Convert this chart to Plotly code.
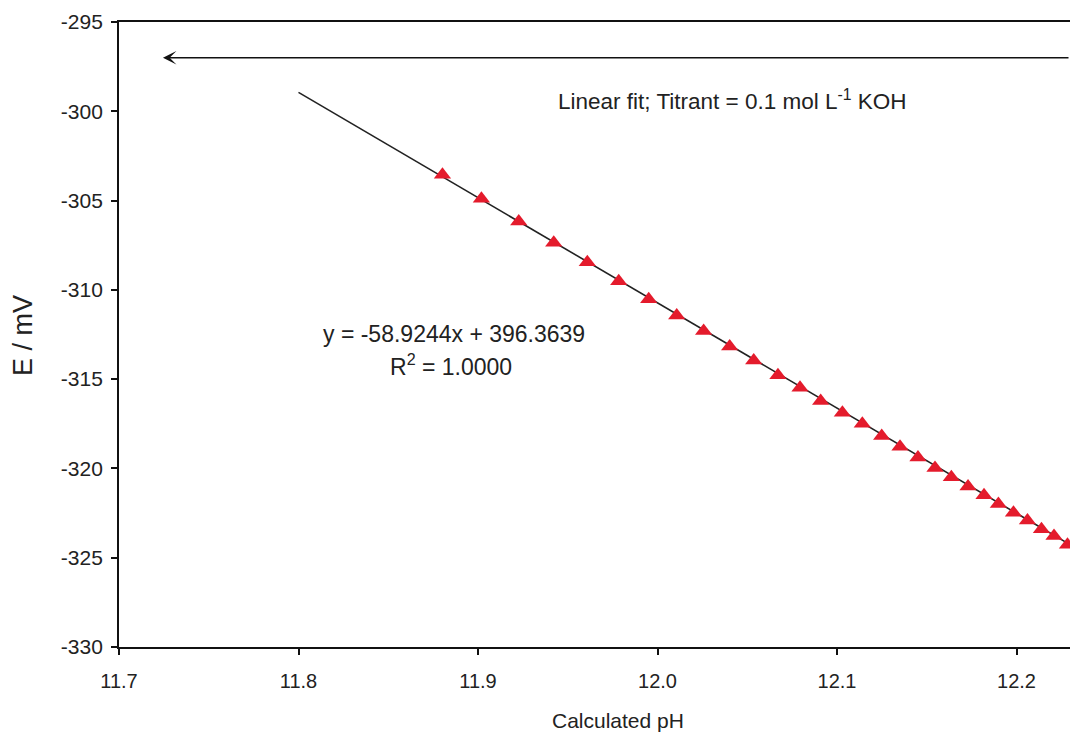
import plotly.graph_objects as go

# Data
ph = [11.8802, 11.9019, 11.9227, 11.9422, 11.9609, 11.9784, 11.9951, 12.0107,
      12.0257, 12.0402, 12.0536, 12.0671, 12.0794, 12.0909, 12.1030, 12.1141,
      12.1249, 12.1351, 12.1451, 12.1546, 12.1637, 12.1730, 12.1819, 12.1899,
      12.1983, 12.2061, 12.2139, 12.2209, 12.2284]
emv = [-303.55, -304.90, -306.17, -307.36, -308.46, -309.52, -310.53, -311.43,
       -312.30, -313.17, -313.96, -314.78, -315.48, -316.22, -316.88, -317.50,
       -318.19, -318.79, -319.39, -319.97, -320.49, -321.01, -321.50, -321.99,
       -322.48, -322.91, -323.40, -323.79, -324.28]
slope = -58.9244
intercept = 396.3639
fit_x = [11.8, 12.24]
fit_y = [slope * v + intercept for v in fit_x]

x_ticks = [11.7, 11.8, 11.9, 12.0, 12.1, 12.2]
x_labels = ["11.7", "11.8", "11.9", "12.0", "12.1", "12.2"]
y_ticks = [-330, -325, -320, -315, -310, -305, -300, -295]
y_labels = ["-330", "-325", "-320", "-315", "-310", "-305", "-300", "-295"]

FONT = "Liberation Sans, Arial, sans-serif"

fig = go.Figure()
fig.add_trace(go.Scatter(x=fit_x, y=fit_y, mode="lines",
                         line=dict(color="#222222", width=1.6),
                         showlegend=False, hoverinfo="skip"))
fig.add_trace(go.Scatter(x=ph, y=emv, mode="markers",
                         marker=dict(symbol="triangle-up", size=15, color="#e41b2c",
                                     line=dict(width=0)),
                         showlegend=False, cliponaxis=False))

# horizontal arrow
fig.add_annotation(x=11.7245, y=-297.0, ax=12.2298, ay=-297.0,
                   xref="x", yref="y", axref="x", ayref="y",
                   text="", showarrow=True, arrowhead=3, arrowsize=1.4,
                   arrowwidth=1.6, arrowcolor="#111111")

fig.add_annotation(x=11.9433, y=-299.38, xref="x", yref="y", xanchor="left",
                   yanchor="middle", showarrow=False,
                   text="Linear fit; Titrant = 0.1 mol L<sup>-1</sup> KOH",
                   font=dict(family=FONT, size=22.5, color="#222222"))
fig.add_annotation(x=11.8869, y=-312.45, xref="x", yref="y", xanchor="center",
                   yanchor="middle", showarrow=False,
                   text="y = -58.9244x + 396.3639",
                   font=dict(family=FONT, size=23, color="#222222"))
fig.add_annotation(x=11.8850, y=-314.20, xref="x", yref="y", xanchor="center",
                   yanchor="middle", showarrow=False,
                   text="R<sup>2</sup> = 1.0000",
                   font=dict(family=FONT, size=23, color="#222222"))

# axis titles
fig.add_annotation(x=0.5247, y=-0.1168, xref="paper", yref="paper",
                   xanchor="center", yanchor="middle", showarrow=False,
                   text="Calculated pH",
                   font=dict(family=FONT, size=21, color="#222222"))
fig.add_annotation(x=-0.1010, y=0.499, xref="paper", yref="paper",
                   xanchor="center", yanchor="middle", showarrow=False,
                   text="E / mV", textangle=-90,
                   font=dict(family=FONT, size=27, color="#222222"))

fig.update_layout(
    width=1070, height=733,
    margin=dict(l=119, r=0, t=22, b=86),
    paper_bgcolor="white", plot_bgcolor="white",
    font=dict(family=FONT, color="#222222"),
    xaxis=dict(range=[11.7, 12.2298], tickvals=x_ticks, ticktext=x_labels,
               showgrid=False, zeroline=False, showline=True, linecolor="#111111",
               linewidth=1.8, mirror=True, ticks="outside", ticklen=6,
               tickwidth=1.5, tickcolor="#111111", ticklabelstandoff=9,
               tickfont=dict(family=FONT, size=20, color="#222222")),
    yaxis=dict(range=[-330, -295], tickvals=y_ticks, ticktext=y_labels,
               showgrid=False, zeroline=False, showline=True, linecolor="#111111",
               linewidth=1.8, mirror=False, ticks="outside", ticklen=6,
               tickwidth=1.5, tickcolor="#111111", ticklabelstandoff=4,
               tickfont=dict(family=FONT, size=21, color="#222222")),
)

fig.write_html("out.html")
